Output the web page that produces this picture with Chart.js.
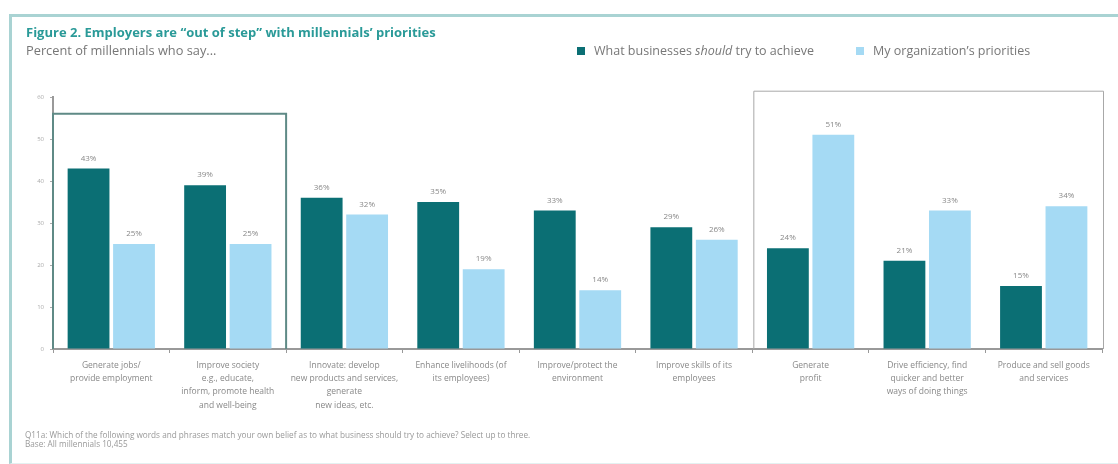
<!DOCTYPE html>
<html>
<head>
<meta charset="utf-8">
<script src="https://cdn.jsdelivr.net/npm/chart.js@4/dist/chart.umd.min.js"></script>
<style>
  html,body{margin:0;padding:0;background:#fff;}
  body{width:1118px;height:464px;position:relative;overflow:hidden;font-family:"Open Sans",sans-serif;}
  #frame{position:absolute;left:9px;top:14px;width:1120px;height:446px;border-left:3px solid #a9d3d3;border-top:3px solid #a9d3d3;border-bottom:1px solid #e4f1f1;}
  #title{position:absolute;left:26px;top:23px;font-size:13px;font-weight:700;color:#2a9a98;white-space:nowrap;}
  #subtitle{position:absolute;left:26px;top:41px;font-size:12.8px;color:#777;white-space:nowrap;}
  .leg{position:absolute;top:42px;font-size:12.5px;color:#777;white-space:nowrap;}
  .sw{position:absolute;top:47px;width:8px;height:8px;}
  #foot{position:absolute;left:25px;top:430px;font-size:8.2px;line-height:9px;color:#999;white-space:nowrap;}
  #wrap{position:absolute;left:0;top:0;width:1118px;height:464px;}
</style>
</head>
<body>
<div id="frame"></div>
<div id="wrap"><canvas id="c" width="1118" height="464"></canvas></div>
<div id="title">Figure 2. Employers are “out of step” with millennials’ priorities</div>
<div id="subtitle">Percent of millennials who say...</div>
<div class="sw" style="left:577px;background:#0b6f74"></div>
<div class="leg" style="left:594px">What businesses <i>should</i> try to achieve</div>
<div class="sw" style="left:856px;background:#a5daf4"></div>
<div class="leg" style="left:873px">My organization’s priorities</div>
<div id="foot">Q11a: Which of the following words and phrases match your own belief as to what business should try to achieve? Select up to three.<br>Base: All millennials 10,455</div>
<script>
const categories = [
  ["Generate jobs/", "provide employment"],
  ["Improve society", "e.g., educate,", "inform, promote health", "and well-being"],
  ["Innovate: develop", "new products and services,", "generate", "new ideas, etc."],
  ["Enhance livelihoods (of", "its employees)"],
  ["Improve/protect the", "environment"],
  ["Improve skills of its", "employees"],
  ["Generate", "profit"],
  ["Drive efficiency, find", "quicker and better", "ways of doing things"],
  ["Produce and sell goods", "and services"]
];
const shouldAchieve = [43, 39, 36, 35, 33, 29, 24, 21, 15];
const orgPriorities = [25, 25, 32, 19, 14, 26, 51, 33, 34];
const yTicks = [0, 10, 20, 30, 40, 50, 60];
const seriesNames = ["What businesses should try to achieve", "My organization’s priorities"];

const extras = {
  id: 'extras',
  afterDatasetsDraw(chart) {
    const ctx = chart.ctx;
    const x = chart.scales.x, y = chart.scales.y;
    ctx.save();
    ctx.font = '8px "Open Sans", sans-serif';
    ctx.fillStyle = '#888';
    ctx.textAlign = 'center';
    ctx.textBaseline = 'bottom';
    chart.data.datasets.forEach((ds, di) => {
      const meta = chart.getDatasetMeta(di);
      meta.data.forEach((bar, i) => {
        ctx.fillText(ds.data[i] + '%', bar.x, bar.y - 6);
      });
    });
    const half = (x.getPixelForValue(1) - x.getPixelForValue(0)) / 2;
    const yb = y.getPixelForValue(0);
    ctx.lineWidth = 2;
    ctx.strokeStyle = '#5f8a86';
    const l1 = x.getPixelForValue(0) - half, r1 = x.getPixelForValue(1) + half;
    const t1 = y.getPixelForValue(56);
    ctx.beginPath();
    ctx.moveTo(l1, yb); ctx.lineTo(l1, t1); ctx.lineTo(r1, t1); ctx.lineTo(r1, yb);
    ctx.stroke();
    ctx.lineWidth = 1;
    ctx.strokeStyle = '#a8a8a8';
    const l2 = x.getPixelForValue(6) - half + 1, r2 = x.getPixelForValue(8) + half + 1;
    const t2 = y.getPixelForValue(61.5);
    ctx.beginPath();
    ctx.moveTo(l2 + 0.5, yb); ctx.lineTo(l2 + 0.5, t2 + 0.5); ctx.lineTo(r2 + 0.5, t2 + 0.5); ctx.lineTo(r2 + 0.5, yb);
    ctx.stroke();
    ctx.restore();
  }
};

new Chart(document.getElementById('c'), {
  type: 'bar',
  data: {
    labels: categories,
    datasets: [
      { label: seriesNames[0], data: shouldAchieve, backgroundColor: '#0b6f74', categoryPercentage: 0.78, barPercentage: 0.92 },
      { label: seriesNames[1], data: orgPriorities, backgroundColor: '#a5daf4', categoryPercentage: 0.78, barPercentage: 0.92 }
    ]
  },
  options: {
    responsive: false,
    animation: false,
    devicePixelRatio: 1,
    layout: { padding: { left: 14, right: 16, top: 97, bottom: 36 } },
    plugins: { legend: { display: false }, tooltip: { enabled: false } },
    scales: {
      x: {
        offset: true,
        grid: { display: true, drawOnChartArea: false, drawTicks: true, tickLength: 4, color: '#999', offset: true },
        border: { display: true, color: '#999', width: 2 },
        ticks: { color: '#888', font: { size: 8.5, family: '"Open Sans", sans-serif', lineHeight: 1.55 }, maxRotation: 0, autoSkip: false, padding: 6 },
        afterFit(s) { s.height = 79; }
      },
      y: {
        min: 0, max: 60,
        afterBuildTicks(s) { s.ticks = yTicks.map(v => ({ value: v })); },
        grid: { display: true, drawOnChartArea: false, drawTicks: true, tickLength: 3, color: '#aaa' },
        border: { display: true, color: '#999', width: 2 },
        ticks: { color: '#aaa', font: { size: 6, family: '"Open Sans", sans-serif' }, padding: 6 },
        afterFit(s) { s.width = 39; }
      }
    }
  },
  plugins: [extras]
});
</script>
</body>
</html>
